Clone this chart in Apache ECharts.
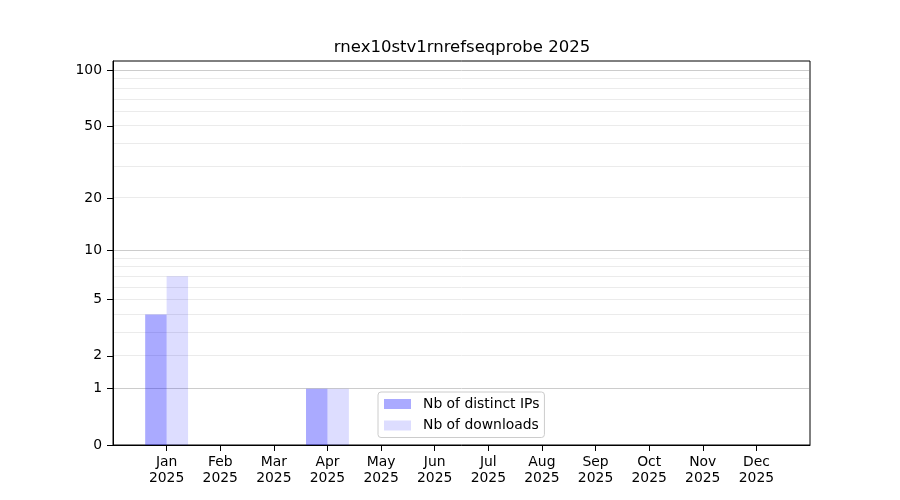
<!DOCTYPE html>
<html>
<head>
<meta charset="utf-8">
<script src="https://cdn.jsdelivr.net/npm/echarts@6/dist/echarts.min.js"></script>
<style>html,body{margin:0;padding:0;background:#fff}#c{width:900px;height:500px}</style>
</head>
<body>
<div id="c"></div>
<script>
const title = 'rnex10stv1rnrefseqprobe 2025';
const year = '2025';
const months = ['Jan','Feb','Mar','Apr','May','Jun','Jul','Aug','Sep','Oct','Nov','Dec'];
const distinctIPs = [4, 0, 0, 1, 0, 0, 0, 0, 0, 0, 0, 0];
const downloads = [7, 0, 0, 1, 0, 0, 0, 0, 0, 0, 0, 0];
const yTickValues = [0, 1, 2, 5, 10, 20, 50, 100];
const yMajorGrid = [1, 10, 100];
const yMinorGrid = [2, 3, 4, 5, 6, 7, 8, 9, 20, 30, 40, 50, 60, 70, 80, 90];
const yMaxValue = 112.5;

const tf = v => Math.log10(1 + v);
const inv = t => Math.round(Math.pow(10, t) - 1);
const FONT = 'DejaVu Sans';

const axisCats = [''].concat(months, ['']);
const pad = arr => ['-'].concat(arr.map(tf), ['-']);

const gridData = yMinorGrid.map(v => [0, tf(v), 0]).concat(yMajorGrid.map(v => [0, tf(v), 1]));

const chart = echarts.init(document.getElementById('c'), null, {renderer: 'canvas'});
chart.setOption({
  animation: false,
  backgroundColor: '#fff',
  title: {
    text: title, left: 457, top: 34, textAlign: 'center',
    textStyle: {fontFamily: FONT, fontSize: 16.5, fontWeight: 'normal', color: '#000'}
  },
  grid: {left: 113, right: 90, top: 61, bottom: 55, show: true, borderColor: '#000', borderWidth: 1, backgroundColor: 'transparent'},
  legend: {
    orient: 'vertical', left: 378, top: 392,
    data: ['Nb of distinct IPs', 'Nb of downloads'],
    icon: 'rect', itemWidth: 27, itemHeight: 10, itemGap: 7.5,
    padding: [5, 5, 5, 6],
    backgroundColor: 'rgba(255,255,255,0.8)', borderColor: '#cccccc', borderWidth: 1, borderRadius: 3,
    textStyle: {fontFamily: FONT, fontSize: 13.9, color: '#000', padding: [0, 0, 0, 7]}
  },
  xAxis: {
    type: 'category', data: axisCats, boundaryGap: false,
    axisLine: {show: true, lineStyle: {color: '#000', width: 1}},
    axisTick: {show: true, length: 6, lineStyle: {color: '#000'}, interval: (i) => i > 0 && i < axisCats.length - 1},
    axisLabel: {
      interval: 0, margin: 9, fontFamily: FONT, fontSize: 13.9, color: '#000', lineHeight: 16,
      formatter: v => v === '' ? '' : v + '\n' + year
    },
    splitLine: {show: false}
  },
  yAxis: {
    type: 'value', min: 0, max: tf(yMaxValue),
    axisLine: {show: true, lineStyle: {color: '#000', width: 1}},
    axisTick: {show: true, length: 6, lineStyle: {color: '#000'}, customValues: yTickValues.map(tf)},
    axisLabel: {
      fontFamily: FONT, fontSize: 13.9, color: '#000', margin: 11,
      customValues: yTickValues.map(tf),
      formatter: v => String(inv(v))
    },
    splitLine: {show: false}
  },
  series: [
    {
      type: 'custom', silent: true, z: 1, clip: false,
      data: gridData, encode: {x: 0, y: 1},
      renderItem: (params, api) => {
        const cs = params.coordSys;
        const yy = Math.round(api.coord([api.value(0), api.value(1)])[1] - 0.5) + 0.5;
        return {
          type: 'line',
          shape: {x1: cs.x + 1, y1: yy, x2: cs.x + cs.width - 1, y2: yy},
          style: {stroke: api.value(2) ? '#cccccc' : '#ebebeb', lineWidth: 1}
        };
      }
    },
    {
      name: 'Nb of distinct IPs', type: 'bar', data: pad(distinctIPs),
      barWidth: '40%', barGap: '0%', z: 2,
      itemStyle: {color: 'rgba(0,0,255,0.333)'}
    },
    {
      name: 'Nb of downloads', type: 'bar', data: pad(downloads),
      barWidth: '40%', barGap: '0%', z: 2,
      itemStyle: {color: 'rgba(0,0,255,0.133)'}
    }
  ]
});
</script>
</body>
</html>
